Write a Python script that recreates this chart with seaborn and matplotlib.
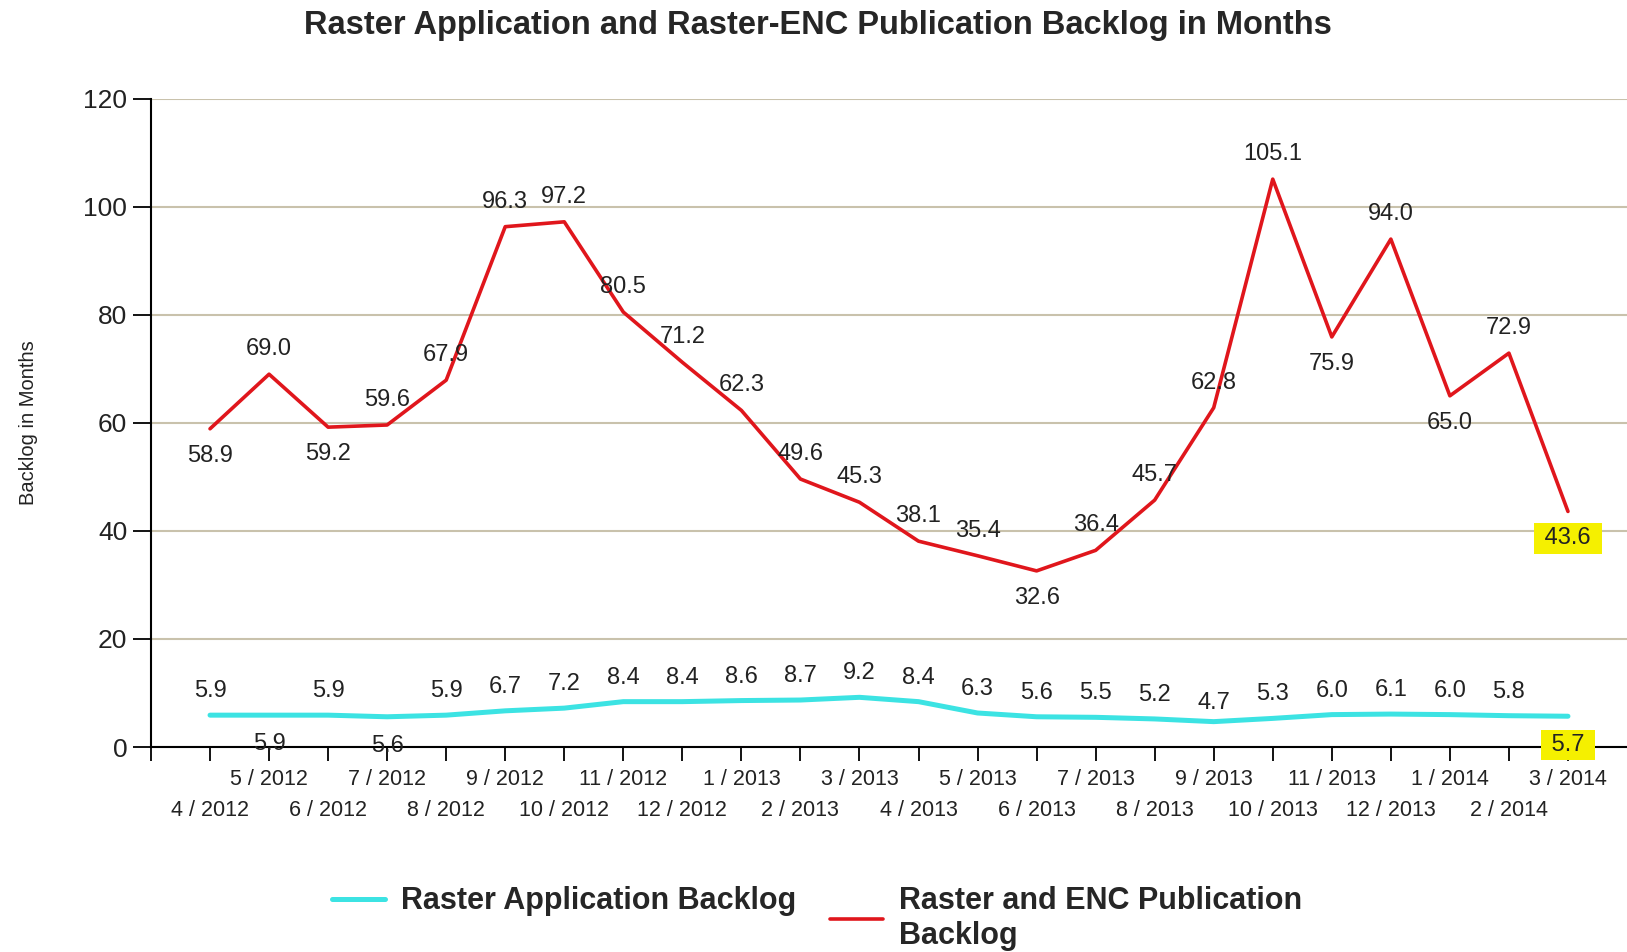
import matplotlib
matplotlib.use("Agg")
import matplotlib.pyplot as plt
import seaborn as sns
import pandas as pd

# chart data
months = ["4 / 2012", "5 / 2012", "6 / 2012", "7 / 2012", "8 / 2012", "9 / 2012",
          "10 / 2012", "11 / 2012", "12 / 2012", "1 / 2013", "2 / 2013", "3 / 2013",
          "4 / 2013", "5 / 2013", "6 / 2013", "7 / 2013", "8 / 2013", "9 / 2013",
          "10 / 2013", "11 / 2013", "12 / 2013", "1 / 2014", "2 / 2014", "3 / 2014"]
raster_app = [5.9, 5.9, 5.9, 5.6, 5.9, 6.7, 7.2, 8.4, 8.4, 8.6, 8.7, 9.2,
              8.4, 6.3, 5.6, 5.5, 5.2, 4.7, 5.3, 6.0, 6.1, 6.0, 5.8, 5.7]
raster_enc = [58.9, 69.0, 59.2, 59.6, 67.9, 96.3, 97.2, 80.5, 71.2, 62.3, 49.6, 45.3,
              38.1, 35.4, 32.6, 36.4, 45.7, 62.8, 105.1, 75.9, 94.0, 65.0, 72.9, 43.6]
# which value labels sit under the line
enc_below = [0, 2, 14, 19, 21, 23]
app_below = [1, 3, 23]

df = pd.DataFrame({"pos": range(1, len(months) + 1),
                   "app": raster_app, "enc": raster_enc})

sns.set_style("white")
plt.rcParams['font.family'] = ['Liberation Sans', 'DejaVu Sans']

fig = plt.figure(figsize=(16.27, 9.52), dpi=100)
ax = fig.add_axes([0.0928, 0.2153, 0.9072, 0.6811])

cyan = "#3CE3E3"
red = "#E0161C"
sns.lineplot(x="pos", y="app", data=df, color=cyan, linewidth=3.6, ax=ax,
             label="Raster Application Backlog")
sns.lineplot(x="pos", y="enc", data=df, color=red, linewidth=2.6, ax=ax,
             label="Raster and ENC Publication\nBacklog")

ax.set_xlim(0, 25)
ax.set_ylim(0, 120)
ax.set_yticks(range(0, 121, 20))
ax.yaxis.grid(True, color="#C9C2AC", linewidth=1.5)
ax.set_axisbelow(True)
for s in ["top", "right"]:
    ax.spines[s].set_visible(False)
for s in ["left", "bottom"]:
    ax.spines[s].set_color("black")
    ax.spines[s].set_linewidth(1.5)

# month labels alternate between two rows: top row on major ticks, bottom row on minor
ax.set_xticks([0] + list(df["pos"][1::2]))
ax.set_xticklabels([""] + months[1::2], fontsize=15.5, color="#222222")
ax.set_xticks(list(df["pos"][0::2]), minor=True)
ax.set_xticklabels(months[0::2], minor=True, fontsize=15.5, color="#222222")
ax.tick_params(axis="x", which="both", direction="out", length=10, width=1.3,
               color="black", bottom=True)
ax.tick_params(axis="x", which="major", pad=6)
ax.tick_params(axis="x", which="minor", pad=28)
ax.tick_params(axis="y", direction="out", length=13, width=1.3, color="black",
               left=True, labelsize=19, pad=4, labelcolor="#222222")
ax.set_xlabel("")
ax.set_ylabel("Backlog in Months", fontsize=14.5, labelpad=33, color="#222222")

# value labels
hl = dict(facecolor="#F5F000", edgecolor="none", pad=3)
for i, (p, v) in enumerate(zip(df["pos"], raster_enc)):
    dy = -27 if i in enc_below else 25
    last = i == len(months) - 1
    ax.annotate(f" {v:.1f} " if last else f"{v:.1f}", (p, v), xytext=(0, dy),
                textcoords="offset pixels", ha="center", va="center", fontsize=17,
                color="#222222", bbox=hl if last else None)
for i, (p, v) in enumerate(zip(df["pos"], raster_app)):
    dy = -29 if i in app_below else (19 if v < 5 else 24)
    last = i == len(months) - 1
    ax.annotate(f" {v:.1f} " if last else f"{v:.1f}", (p, v), xytext=(0, dy),
                textcoords="offset pixels", ha="center", va="center", fontsize=17,
                color="#222222", bbox=hl if last else None, zorder=5)

fig.suptitle("Raster Application and Raster-ENC Publication Backlog in Months",
             x=0.503, y=0.973, fontsize=23.5, fontweight="bold", va="center")

ax.legend_.remove()
h, l = ax.get_legend_handles_labels()
leg_kw = dict(loc="upper left", frameon=False, prop={"size": 22, "weight": "bold"},
              handlelength=1.75, handletextpad=0.5, borderpad=0, borderaxespad=0)
fig.legend([h[0]], [l[0]], bbox_to_anchor=(0.204, 0.069), **leg_kw)
fig.legend([h[1]], [l[1]], bbox_to_anchor=(0.510, 0.069), **leg_kw)

fig.savefig("out.png", dpi=100)
